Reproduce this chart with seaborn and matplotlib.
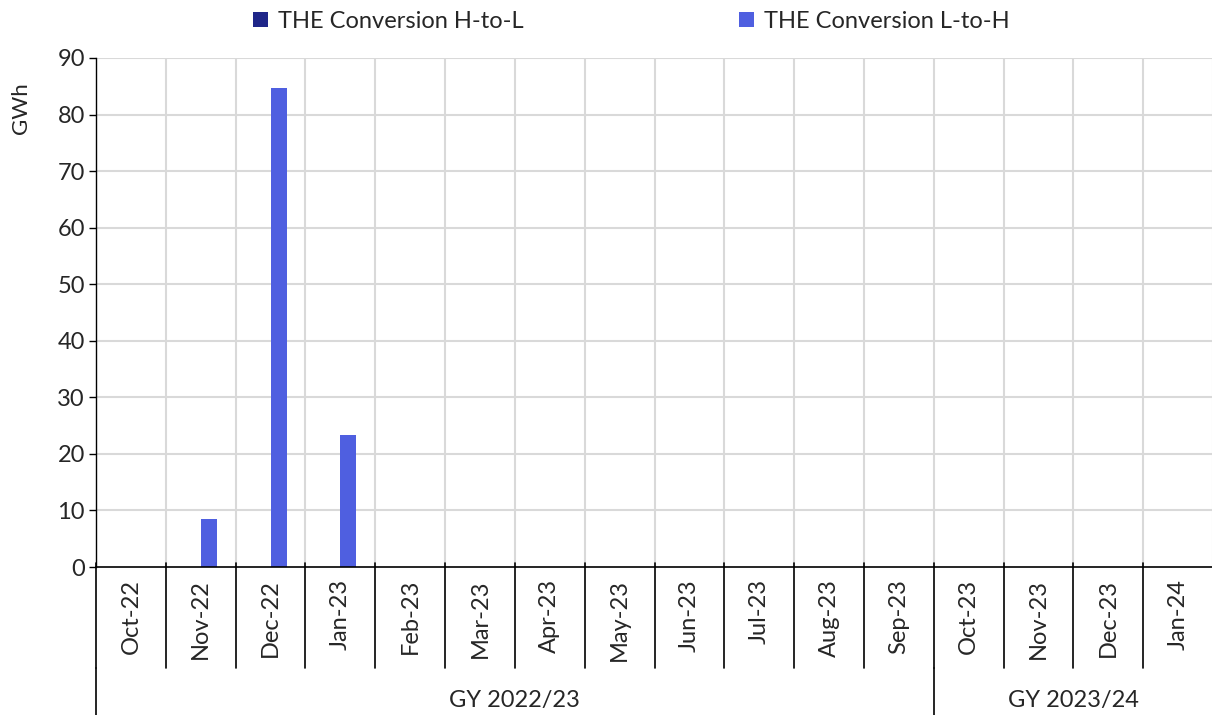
import matplotlib
matplotlib.use("Agg")
import matplotlib.pyplot as plt
import matplotlib.transforms as mtransforms
import seaborn as sns
import pandas as pd
import numpy as np

months = ["Oct-22", "Nov-22", "Dec-22", "Jan-23", "Feb-23", "Mar-23", "Apr-23", "May-23",
          "Jun-23", "Jul-23", "Aug-23", "Sep-23", "Oct-23", "Nov-23", "Dec-23", "Jan-24"]
gas_years = ["GY 2022/23"] * 12 + ["GY 2023/24"] * 4
series_names = ["THE Conversion H-to-L", "THE Conversion L-to-H"]
h_to_l = [0, 0, 0, 0, 0, 0, 0, 0, 0, 0, 0, 0, 0, 0, 0, 0]
l_to_h = [0, 8.4, 84.7, 23.4, 0, 0, 0, 0, 0, 0, 0, 0, 0, 0, 0, 0]
colors = ["#1F2689", "#4F5FE0"]
y_ticks = [0, 10, 20, 30, 40, 50, 60, 70, 80, 90]

df = pd.DataFrame({
    "month": months * 2,
    "series": [series_names[0]] * len(months) + [series_names[1]] * len(months),
    "value": h_to_l + l_to_h,
})

sns.set_theme(style="white")
plt.rcParams["font.family"] = ["Lato", "DejaVu Sans"]
FS = 17

fig = plt.figure(figsize=(12.12, 7.15), dpi=100)
ax = fig.add_axes([96 / 1212, 1 - 567 / 715, 1117 / 1212, 509 / 715])

sns.barplot(data=df, x="month", y="value", hue="series", order=months,
            hue_order=series_names, palette=colors, width=0.46, dodge=True,
            linewidth=0, saturation=1, ax=ax, legend=True)

n = len(months)
ax.set_xlim(-0.5, n - 0.5)
ax.set_ylim(0, 90)
ax.set_yticks(y_ticks)
ax.tick_params(axis="y", labelsize=FS, length=5, width=1, color="black", direction="out", left=True, pad=3)
ax.set_ylabel("GWh", fontsize=16)
ax.yaxis.set_label_coords(-0.058, 0.902)

# grid
for y in y_ticks[1:]:
    ax.axhline(y, color="#D9D9D9", lw=1.5, zorder=0)
bounds = np.arange(-0.5, n, 1.0)
for b in bounds[1:]:
    ax.axvline(b, color="#D9D9D9", lw=1.5, zorder=0)

for s in ["top", "right"]:
    ax.spines[s].set_visible(False)
ax.spines["left"].set_color("black")
ax.spines["bottom"].set_color("black")
ax.spines["left"].set_linewidth(1)
ax.spines["bottom"].set_linewidth(1.2)

# multi-level x axis
ax.set_xticks(range(n))
ax.set_xticklabels([])
ax.tick_params(axis="x", length=0)
ax.set_xlabel("")
trans = mtransforms.blended_transform_factory(ax.transData, ax.transAxes)
px = 1 / 509.0
for i, m in enumerate(months):
    ax.text(i, -12 * px, m, rotation=90, ha="center", va="top", fontsize=FS,
            transform=trans, clip_on=False)
for b in bounds:
    ax.plot([b, b], [4 * px, -101 * px], color="black", lw=1.2, transform=trans, clip_on=False)
# group separators
group_edges = [-0.5]
for i in range(1, n):
    if gas_years[i] != gas_years[i - 1]:
        group_edges.append(i - 0.5)
for e in group_edges:
    ax.plot([e, e], [-101 * px, -150 * px], color="black", lw=1.2, transform=trans, clip_on=False)
start = 0
for i in range(1, n + 1):
    if i == n or gas_years[i] != gas_years[start]:
        ax.text((start + i - 1) / 2, -133 * px, gas_years[start], ha="center", va="center",
                fontsize=FS, transform=trans, clip_on=False)
        start = i

# legend
handles, labels = ax.get_legend_handles_labels()
ax.get_legend().remove()
fig.legend(handles, labels, loc="center", bbox_to_anchor=(0.521, 1 - 21 / 715), ncol=2,
           frameon=False, fontsize=FS, handlelength=0.62, handleheight=0.62,
           handletextpad=0.45, columnspacing=9.1)

fig.savefig("out.png", dpi=100)
